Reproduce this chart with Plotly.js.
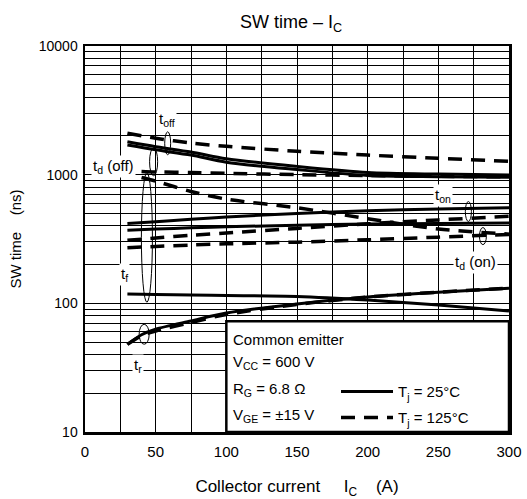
<!DOCTYPE html>
<html>
<head>
<meta charset="utf-8">
<script src="https://cdn.plot.ly/plotly-3.0.1.min.js"></script>
<style>html,body{margin:0;padding:0;background:#fff;}#chart{width:527px;height:499px;}</style>
</head>
<body>
<div id="chart"></div>
<script>
// ---- data (collector current in A, switching times in ns) ----
const icA = [30, 50, 75, 100, 150, 200, 250, 300];
const icB = [40, 50, 75, 100, 150, 200, 250, 300];
const icR = [30, 40, 50, 75, 100, 150, 200, 250, 300];

const toff25   = [1800, 1650, 1500, 1330, 1160, 1040, 1010, 995];
const tdoff25  = [1700, 1560, 1420, 1250, 1095, 985, 965, 955];
const toff125  = [2100, 1920, 1760, 1660, 1520, 1420, 1340, 1270];
const tdoff125 = [1060, 1050, 1040, 1025, 1000, 985, 972, 962];
const tf125    = [950, 890, 740, 645, 553, 455, 378, 345];
const ton25    = [417, 430, 450, 468, 500, 525, 540, 552];
const ton125   = [309, 322, 338, 352, 382, 415, 445, 475];
const tdon25   = [370, 378, 386, 393, 405, 413, 418, 422];
const tdon125  = [270, 277, 284, 290, 299, 312, 327, 343];
const tf25     = [118, 117, 116, 115, 113, 106, 97, 87];
const tr25     = [48, 57, 63, 73, 84, 99, 112, 122, 131];
const tr125    = [48, 56, 61, 71, 82, 98, 112, 122, 131];

const xTickVals = [0, 50, 100, 150, 200, 250, 300];
const yTickVals = [10, 100, 1000, 10000];
const yTickText = ['10', '100', '1000', '10000'];

const legendNames = ['T<sub>j</sub> = 25°C', 'T<sub>j</sub> = 125°C'];
const conditions = ['Common emitter', 'V<sub>CC</sub> = 600 V', 'R<sub>G</sub> = 6.8 Ω', 'V<sub>GE</sub> = ±15 V'];

// ---- styling ----
const FONT = 'Liberation Sans, Arial, Helvetica, sans-serif';
const solid = {color: '#000', width: 3, shape: 'spline', smoothing: 0.8};
const dashed = {color: '#000', width: 3.5, dash: '14px,9px', shape: 'spline', smoothing: 0.8};
const L = Math.log10;

function tr(x, y, line, show, name, grp) {
  const t = {x: x, y: y, type: 'scatter', mode: 'lines', line: line,
          showlegend: !!show, name: name || '', hoverinfo: 'skip'};
  if (grp) t.legendgroup = grp;
  return t;
}

// white conditions box (covers the grid), drawn first so it sits under the curves
const boxTrace = {x: [100, 300, 300, 100, 100], y: [10, 10, 72.7, 72.7, 10], type: 'scatter', mode: 'lines',
  fill: 'toself', fillcolor: '#fff', line: {color: '#000', width: 2.5}, showlegend: false, hoverinfo: 'skip'};

const data = [
  boxTrace,
  tr(icA, toff25, solid, true, legendNames[0], 'g25'),
  tr(icA, toff125, dashed, true, legendNames[1], 'g125'),
  tr(icA, tdoff25, solid),
  tr(icB, tdoff125, dashed),
  tr(icB, tf125, dashed),
  tr(icA, ton25, solid),
  tr(icA, ton125, dashed),
  tr(icA, tdon25, solid),
  tr(icA, tdon125, dashed),
  tr(icA, tf25, solid),
  tr(icR, tr25, solid),
  tr(icR, tr125, dashed)
];

function label(text, x, v) {
  return {text: text, x: x, y: L(v), xref: 'x', yref: 'y', showarrow: false,
          font: {family: FONT, size: 15, color: '#000'}, bgcolor: '#ffffff', borderpad: 1};
}
// ellipses grouping the curves (shape coordinates given in data values)
function ell(x0, x1, v0, v1) {
  return {type: 'circle', xref: 'x', yref: 'y', x0: x0, x1: x1, y0: v0, y1: v1,
          line: {color: '#000', width: 1}, fillcolor: 'rgba(0,0,0,0)', layer: 'above'};
}

const annotations = [
  label('t<sub>off</sub>', 57.8, 2667),
  label('t<sub>d</sub> (off)', 19.9, 1164),
  label('t<sub>f</sub>', 28, 168),
  label('t<sub>r</sub>', 37.2, 33),
  label('t<sub>on</sub>', 253.5, 687),
  label('t<sub>d</sub> (on)', 276.2, 208)
];
const condY = [52.6, 34.9, 21.5, 13.4];
conditions.forEach((c, i) => annotations.push({
  text: c, x: 103.6, y: L(condY[i]), xref: 'x', yref: 'y', xanchor: 'left', showarrow: false,
  font: {family: FONT, size: 15, color: '#000'}
}));

const shapes = [
  ell(56.4, 60.6, 1429, 2153),
  ell(45.7, 51.4, 981, 1618),
  ell(39.9, 47.7, 102, 1038),
  ell(38.3, 45.4, 48.1, 68.7),
  ell(269.1, 273.4, 433, 618),
  ell(279.1, 284.0, 286, 388)
];

const layout = {
  width: 527, height: 499,
  margin: {l: 85, r: 18, t: 46, b: 67},
  paper_bgcolor: '#fff', plot_bgcolor: '#fff',
  font: {family: FONT, size: 14, color: '#000'},
  title: {text: 'SW time – I<sub>C</sub>', x: 0.486, xref: 'paper', xanchor: 'center',
          y: 0.956, yanchor: 'middle', font: {family: FONT, size: 18, color: '#000'}},
  xaxis: {range: [0, 300], tickvals: xTickVals, ticks: '', showgrid: true, gridcolor: '#000', gridwidth: 1,
          minor: {dtick: 25, tick0: 0, showgrid: true, gridcolor: '#000', gridwidth: 1, ticks: ''},
          zeroline: false, showline: true, mirror: true, linecolor: '#000', linewidth: 2.5,
          tickfont: {family: FONT, size: 15}, ticklabelstandoff: 4,
          title: {text: 'Collector current\u00a0\u00a0\u00a0\u00a0\u00a0I<sub>C</sub>\u00a0\u00a0\u00a0\u00a0(A)',
                  font: {family: FONT, size: 17}, standoff: 24},
          fixedrange: true},
  yaxis: {type: 'log', range: [1, 4], tickvals: yTickVals, ticktext: yTickText, ticks: '',
          showgrid: true, gridcolor: '#000', gridwidth: 1, zeroline: false,
          minor: {dtick: 'D1', showgrid: true, gridcolor: '#000', gridwidth: 1, ticks: ''},
          showline: true, mirror: true, linecolor: '#000', linewidth: 2.5,
          tickfont: {family: FONT, size: 14}, ticklabelstandoff: 2,
          title: {text: 'SW time\u00a0\u00a0\u00a0\u00a0(ns)', font: {family: FONT, size: 15}, standoff: 14},
          fixedrange: true},
  showlegend: true,
  legend: {x: 0.592, xanchor: 'left', y: 0.147, yanchor: 'top', bgcolor: 'rgba(0,0,0,0)',
           borderwidth: 0, font: {family: FONT, size: 15, color: '#000'}, itemwidth: 52,
           tracegroupgap: 3.5, orientation: 'v'},
  annotations: annotations,
  shapes: shapes
};

Plotly.newPlot('chart', data, layout, {staticPlot: true, displayModeBar: false});
</script>
</body>
</html>
